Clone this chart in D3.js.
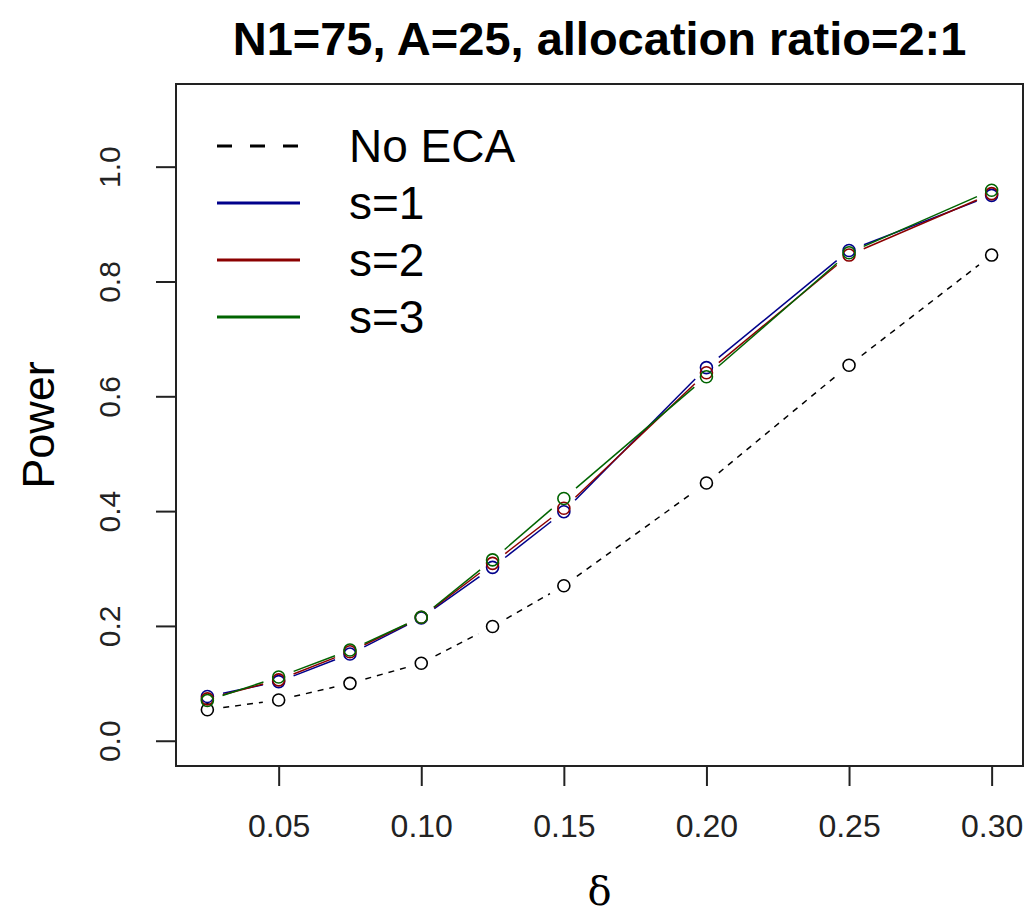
<!DOCTYPE html>
<html>
<head>
<meta charset="utf-8">
<script src="https://cdn.jsdelivr.net/npm/d3@7"></script>
<style>
  html, body { margin: 0; padding: 0; background: #fff; }
  svg { display: block; }
  text { font-family: Arial, "Liberation Sans", sans-serif; }
</style>
</head>
<body>
<svg id="chart" width="1028" height="916"></svg>
<script>
// Effect sizes on the x axis
const delta = [0.025, 0.05, 0.075, 0.10, 0.125, 0.15, 0.20, 0.25, 0.30];

// Power curves
const noEca = [0.054, 0.071, 0.100, 0.135, 0.199, 0.270, 0.449, 0.654, 0.846];
const s1    = [0.077, 0.103, 0.151, 0.214, 0.302, 0.399, 0.650, 0.854, 0.950];
const s2    = [0.073, 0.106, 0.155, 0.215, 0.309, 0.405, 0.641, 0.846, 0.953];
const s3    = [0.070, 0.111, 0.158, 0.215, 0.315, 0.422, 0.634, 0.850, 0.959];

const seriesNames = ["No ECA", "s=1", "s=2", "s=3"];
const xTicks = [0.05, 0.10, 0.15, 0.20, 0.25, 0.30];
const yTicks = [0.0, 0.2, 0.4, 0.6, 0.8, 1.0];
const title = "N1=75, A=25, allocation ratio=2:1";

const series = [
  { name: seriesNames[0], values: noEca, color: "#000000", dash: "6,6" },
  { name: seriesNames[1], values: s1,    color: "#00008B", dash: null },
  { name: seriesNames[2], values: s2,    color: "#8B0000", dash: null },
  { name: seriesNames[3], values: s3,    color: "#006400", dash: null }
];

const svg = d3.select("#chart");
const box = { left: 176, right: 1023, top: 84, bottom: 766 };

// Axis limits padded by 4% on each side, as in base R graphics
const xlim = [0.025, 0.30], ylim = [0, 1.1];
const xpad = (xlim[1] - xlim[0]) * 0.04, ypad = (ylim[1] - ylim[0]) * 0.04;
const x = d3.scaleLinear().domain([xlim[0] - xpad, xlim[1] + xpad]).range([box.left, box.right]);
const y = d3.scaleLinear().domain([ylim[0] - ypad, ylim[1] + ypad]).range([box.bottom, box.top]);

// Series: segments broken around each point, then open circles
const gap = 16;
series.forEach(s => {
  const g = svg.append("g");
  const pts = delta.map((d, i) => [x(d), y(s.values[i])]);
  for (let i = 0; i < pts.length - 1; i++) {
    const [x0, y0] = pts[i], [x1, y1] = pts[i + 1];
    const len = Math.hypot(x1 - x0, y1 - y0);
    if (len <= 2 * gap) continue;
    const ux = (x1 - x0) / len, uy = (y1 - y0) / len;
    g.append("line")
      .attr("x1", x0 + ux * gap).attr("y1", y0 + uy * gap)
      .attr("x2", x1 - ux * gap).attr("y2", y1 - uy * gap)
      .attr("stroke", s.color).attr("stroke-width", 1.5)
      .attr("stroke-dasharray", s.dash);
  }
  g.selectAll("circle").data(pts).join("circle")
    .attr("cx", p => p[0]).attr("cy", p => p[1]).attr("r", 6)
    .attr("fill", "none").attr("stroke", s.color).attr("stroke-width", 1.6);
});

// Plot frame
svg.append("rect")
  .attr("x", box.left).attr("y", box.top)
  .attr("width", box.right - box.left).attr("height", box.bottom - box.top)
  .attr("fill", "none").attr("stroke", "#222").attr("stroke-width", 2);

// Bottom axis
const xAxis = svg.append("g").attr("transform", `translate(0,${box.bottom})`)
  .call(d3.axisBottom(x).tickValues(xTicks).tickSize(20).tickPadding(28)
        .tickFormat(d3.format(".2f")));
xAxis.select(".domain").remove();
xAxis.selectAll("line").attr("stroke", "#222").attr("stroke-width", 2);
xAxis.selectAll("text").attr("font-size", 32).attr("fill", "#222");

// Left axis, labels rotated parallel to the axis
const yAxis = svg.append("g").attr("transform", `translate(${box.left},0)`)
  .call(d3.axisLeft(y).tickValues(yTicks).tickSize(20).tickFormat(d3.format(".1f")));
yAxis.select(".domain").remove();
yAxis.selectAll("line").attr("stroke", "#222").attr("stroke-width", 2);
yAxis.selectAll("text")
  .attr("font-size", 30).attr("fill", "#222")
  .attr("x", null).attr("dy", null)
  .attr("text-anchor", "middle")
  .attr("transform", "translate(-56,0) rotate(-90)");

// Title and axis titles
svg.append("text").attr("x", (box.left + box.right) / 2).attr("y", 55)
  .attr("text-anchor", "middle").attr("font-size", 47).attr("font-weight", "bold")
  .attr("fill", "#000").text(title);

svg.append("text").attr("x", (box.left + box.right) / 2).attr("y", 905)
  .attr("text-anchor", "middle").attr("font-size", 40)
  .style("font-family", "'DejaVu Serif', 'Liberation Serif', serif")
  .attr("fill", "#000").text("δ");

svg.append("text")
  .attr("transform", `translate(54,${(box.top + box.bottom) / 2}) rotate(-90)`)
  .attr("text-anchor", "middle").attr("font-size", 45).attr("fill", "#000")
  .text("Power");

// Legend
const legend = svg.append("g");
series.forEach((s, i) => {
  const ly = 146 + i * 57;
  legend.append("line")
    .attr("x1", 217).attr("x2", 300).attr("y1", ly).attr("y2", ly)
    .attr("stroke", s.color).attr("stroke-width", 3)
    .attr("stroke-dasharray", s.dash ? "15,18" : null);
  legend.append("text").attr("x", 349).attr("y", ly + 16)
    .attr("font-size", 46).attr("fill", "#000").text(s.name);
});
</script>
</body>
</html>
